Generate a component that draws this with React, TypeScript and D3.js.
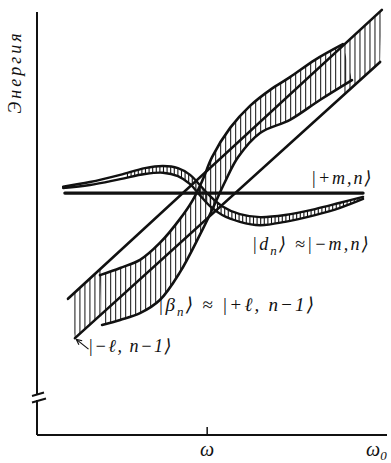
import React from "react";
import * as d3 from "d3";

const WIDTH = 391;
const HEIGHT = 463;

type Pt = [number, number];

// ω0 (horizontal) and energy (vertical), arbitrary units
const X_DOMAIN: Pt = [0, 100];
const Y_DOMAIN: Pt = [0, 100];
const OMEGA = 48.9; // resonance: ω0 = ω

// |+m,n⟩ — flat level
const plusMLevel: Pt[] = [[8.0, 57.2], [93.7, 57.2]];

// edges of the broad |−ℓ,n−1⟩ level (straight lines)
const lBandUpper: Pt[] = [[8.9, 32.2], [99.1, 100.5]];
const lBandLower: Pt[] = [[10.9, 22.9], [98.6, 88.2]];

// |β_n⟩ band edges
const betaUpper: Pt[] = [
  [18.1, 37.8], [23.9, 39.5], [29.6, 41.4], [35.3, 45.4], [41.1, 51.1],
  [44.8, 55.6], [47.7, 60.5], [50.3, 65.7], [55.5, 72.6], [61.2, 77.8],
  [67.0, 81.6], [72.7, 84.6], [79.9, 88.7], [87.9, 92.4],
];
const betaLower: Pt[] = [
  [18.7, 26.0], [23.9, 27.2], [29.6, 28.8], [35.3, 31.9], [41.1, 38.5],
  [46.8, 47.3], [50.3, 53.2], [54.0, 59.8], [57.8, 65.7], [64.1, 71.4],
  [72.7, 74.5], [81.3, 79.2], [90.5, 83.9],
];

// |d_n⟩ band edges
const dUpper: Pt[] = [
  [7.5, 58.7], [15.2, 59.8], [23.9, 61.5], [31.0, 63.1], [36.2, 63.6],
  [40.5, 63.1], [44.0, 61.5], [46.8, 59.1], [49.7, 56.5], [53.2, 54.1],
  [58.3, 52.2], [64.1, 51.5], [71.3, 52.0], [79.9, 53.4], [87.1, 54.9],
  [93.7, 56.3],
];
const dLower: Pt[] = [
  [7.5, 58.4], [15.2, 59.1], [23.9, 60.5], [31.0, 61.7], [36.2, 62.0],
  [40.5, 61.2], [44.0, 59.3], [46.8, 56.7], [49.7, 54.1], [53.2, 52.0],
  [58.3, 50.4], [64.1, 49.6], [71.3, 50.4], [79.9, 52.0], [87.1, 53.7],
  [93.7, 55.8],
];

// hatched stretches of each band (ω0 ranges)
const lBandHatchSpans: Pt[] = [[10.9, 18.4], [88.5, 98.6]];
const betaHatchSpan: Pt = [18.3, 90.3];
const dHatchSpan: Pt = [26.0, 93.0];

// pointer to the |−ℓ,n−1⟩ level
const lPointer: Pt[] = [[14.8, 20.3], [11.3, 22.6]];

const xTickValues = [OMEGA];
const xTickLabels = ["ω"];

const INK = "#111";
const FONT = "'Liberation Serif', 'DejaVu Serif', serif";

export default function App() {
  const x = d3.scaleLinear().domain(X_DOMAIN).range([37, 385]);
  const y = d3.scaleLinear().domain(Y_DOMAIN).range([435, 12]);

  const curve = d3
    .line<Pt>()
    .x((d) => x(d[0]))
    .y((d) => y(d[1]))
    .curve(d3.curveCatmullRom.alpha(0.5));
  const straight = d3
    .line<Pt>()
    .x((d) => x(d[0]))
    .y((d) => y(d[1]));

  const closedBand = (
    upper: Pt[],
    lower: Pt[],
    gen: d3.Line<Pt>
  ): string =>
    (gen(upper) ?? "") +
    (gen(lower.slice().reverse()) ?? "").replace(/^M/, "L") +
    "Z";

  const hatchXs = (span: Pt, step: number) =>
    d3.range(x(span[0]), x(span[1]) + 0.01, step);

  const betaClip = closedBand(betaUpper, betaLower, curve);
  const dClip = closedBand(dUpper, dLower, curve);
  const lClip = closedBand(lBandUpper, lBandLower, straight);

  const hatch = (xs: number[], clip: string, key: string, w = 1) => (
    <g clipPath={`url(#${clip})`} key={key}>
      {xs.map((px, i) => (
        <line
          key={i}
          x1={px}
          x2={px}
          y1={0}
          y2={HEIGHT}
          stroke={INK}
          strokeWidth={w}
        />
      ))}
    </g>
  );

  const p0 = lPointer[0];
  const p1 = lPointer[1];
  const ax = x(p1[0]);
  const ay = y(p1[1]);
  const ang = Math.atan2(y(p0[1]) - ay, x(p0[0]) - ax);
  const head = (da: number) =>
    `${ax + 6 * Math.cos(ang + da)},${ay + 6 * Math.sin(ang + da)}`;

  return (
    <svg
      width={WIDTH}
      height={HEIGHT}
      style={{ display: "block", position: "absolute", left: 0, top: 0 }}
    >
      <rect width={WIDTH} height={HEIGHT} fill="#fff" />
      <defs>
        <clipPath id="clip-beta">
          <path d={betaClip} />
        </clipPath>
        <clipPath id="clip-d">
          <path d={dClip} />
        </clipPath>
        <clipPath id="clip-l">
          <path d={lClip} />
        </clipPath>
      </defs>

      {/* hatching */}
      {lBandHatchSpans.map((s, i) =>
        hatch(hatchXs(s, 5), "clip-l", `l${i}`)
      )}
      {hatch(hatchXs(betaHatchSpan, 5), "clip-beta", "beta")}
      {hatch(hatchXs(dHatchSpan, 3.6), "clip-d", "d", 1.1)}

      {/* band edges */}
      <g fill="none" stroke={INK} strokeLinecap="round">
        <path d={curve(betaUpper) ?? ""} strokeWidth={2.6} />
        <path d={curve(betaLower) ?? ""} strokeWidth={2.6} />
        <path d={curve(dUpper) ?? ""} strokeWidth={2.4} />
        <path d={curve(dLower) ?? ""} strokeWidth={2.4} />
        <path d={straight(lBandUpper) ?? ""} strokeWidth={2.6} />
        <path d={straight(lBandLower) ?? ""} strokeWidth={2.6} />
        <path d={straight(plusMLevel) ?? ""} strokeWidth={3.2} />
      </g>

      {/* pointer to |−ℓ,n−1⟩ */}
      <g stroke={INK} strokeWidth={1.2} fill="none">
        <line x1={x(p0[0])} y1={y(p0[1])} x2={ax} y2={ay} />
        <polyline points={`${head(0.45)} ${ax},${ay} ${head(-0.45)}`} />
      </g>

      {/* axes */}
      <g stroke={INK} strokeWidth={2} fill="none">
        <line x1={x(0)} x2={x(0)} y1={y(100)} y2={394} />
        <line x1={x(0)} x2={x(0)} y1={400} y2={y(0)} />
        <line x1={x(0) - 5} x2={x(0) + 7} y1={396} y2={392.5} />
        <line x1={x(0) - 5} x2={x(0) + 9} y1={402.5} y2={398.5} />
        <line x1={x(0)} x2={x(100) + 2} y1={y(0)} y2={y(0)} />
        {xTickValues.map((v) => (
          <line key={v} x1={x(v)} x2={x(v)} y1={y(0)} y2={y(0) - 8} strokeWidth={1.5} />
        ))}
      </g>

      <g fontFamily={FONT} fontStyle="italic" fill={INK}>
        {xTickValues.map((v, i) => (
          <text key={v} x={x(v)} y={456} fontSize={20} textAnchor="middle">
            {xTickLabels[i]}
          </text>
        ))}
        <text x={366} y={456} fontSize={20}>
          ω<tspan fontSize={13} dy={4}>0</tspan>
        </text>
        <text
          transform="translate(21,72) rotate(-90)"
          fontSize={18}
          textAnchor="middle"
          letterSpacing={3}
        >
          Энергия
        </text>

        <text x={311} y={184} fontSize={18} letterSpacing={2}>
          |+m,n⟩
        </text>
        <text x={252} y={250} fontSize={18} letterSpacing={2.2}>
          |d<tspan fontSize={13} dy={5}>n</tspan>
          <tspan dy={-5}>⟩ ≈|−m,n⟩</tspan>
        </text>
        <text x={158} y={311} fontSize={19} letterSpacing={2.2}>
          |β<tspan fontSize={13} dy={5}>n</tspan>
          <tspan dy={-5}>⟩ ≈ |+ℓ, n−1⟩</tspan>
        </text>
        <text x={88} y={352} fontSize={18} letterSpacing={1.6}>
          |−ℓ, n−1⟩
        </text>
      </g>
    </svg>
  );
}
